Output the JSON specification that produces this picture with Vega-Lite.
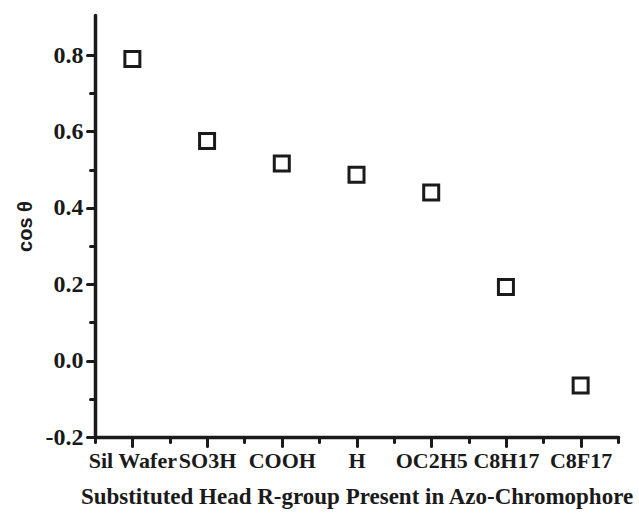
{
  "$schema": "https://vega.github.io/schema/vega-lite/v6.json",
  "width": 523,
  "height": 422,
  "autosize": "none",
  "padding": {"left": 95, "top": 15, "right": 21, "bottom": 76},
  "background": "white",
  "config": {"view": {"stroke": null}},
  "data": {"values": [
    {"idx": 1, "group": "Sil Wafer", "cos": 0.79},
    {"idx": 2, "group": "SO3H", "cos": 0.575},
    {"idx": 3, "group": "COOH", "cos": 0.516},
    {"idx": 4, "group": "H", "cos": 0.487},
    {"idx": 5, "group": "OC2H5", "cos": 0.44},
    {"idx": 6, "group": "C8H17", "cos": 0.193},
    {"idx": 7, "group": "C8F17", "cos": -0.065}
  ]},
  "layer": [
    {
      "mark": {"type": "point", "shape": "square", "size": 225, "strokeWidth": 3, "color": "#1a1a1a", "filled": false, "opacity": 1},
      "encoding": {
        "x": {"field": "idx", "type": "quantitative",
          "scale": {"domain": [0.5, 7.5], "nice": false, "zero": false},
          "axis": {"values": [1,2,3,4,5,6,7],
            "labelExpr": "['','Sil Wafer','SO3H','COOH','H','OC2H5','C8H17','C8F17'][datum.value]",
            "title": "Substituted Head R-group Present in Azo-Chromophore",
            "grid": false, "domainColor": "#1a1a1a", "domainWidth": 3.5, "domainCap": "round",
            "tickColor": "#1a1a1a", "tickWidth": 3, "tickSize": 9, "tickCap": "round",
            "labelFont": "Liberation Serif", "labelFontWeight": "bold", "labelFontSize": 22, "labelColor": "#1a1a1a", "labelPadding": 4, "labelOverlap": false, "labelFlush": false, "labelBound": false,
            "titleFont": "Liberation Serif", "titleFontWeight": "bold", "titleFontSize": 23, "titleColor": "#1a1a1a", "titlePadding": 14}},
        "y": {"field": "cos", "type": "quantitative",
          "scale": {"domain": [-0.2, 0.905], "nice": false, "zero": false},
          "axis": {"values": [-0.2, 0, 0.2, 0.4, 0.6, 0.8],
            "labelExpr": "datum.value < 0 ? '-' + format(abs(datum.value), '.1f') : format(datum.value, '.1f')",
            "title": "cos θ",
            "grid": false, "domainColor": "#1a1a1a", "domainWidth": 3.5, "domainCap": "round",
            "tickColor": "#1a1a1a", "tickWidth": 3, "tickSize": 8, "tickCap": "round",
            "labelFont": "Liberation Serif", "labelFontWeight": "bold", "labelFontSize": 24, "labelColor": "#1a1a1a", "labelPadding": 4, "labelOverlap": false,
            "titleFont": "Liberation Sans", "titleFontWeight": "bold", "titleFontSize": 20, "titleColor": "#1a1a1a", "titlePadding": 10}}
      }
    },
    {
      "mark": {"type": "point", "opacity": 0},
      "encoding": {
        "x": {"field": "idx", "type": "quantitative",
          "axis": {"orient": "bottom", "values": [0.5,1.5,2.5,3.5,4.5,5.5,6.5,7.5], "labels": false, "title": null, "grid": false, "domain": false,
            "tickColor": "#1a1a1a", "tickWidth": 3, "tickSize": 5, "tickCap": "round"}},
        "y": {"field": "cos", "type": "quantitative",
          "axis": {"orient": "left", "values": [-0.1, 0.1, 0.3, 0.5, 0.7], "labels": false, "title": null, "grid": false, "domain": false,
            "tickColor": "#1a1a1a", "tickWidth": 3, "tickSize": 5, "tickCap": "round"}}
      }
    }
  ],
  "resolve": {"axis": {"x": "independent", "y": "independent"}}
}
